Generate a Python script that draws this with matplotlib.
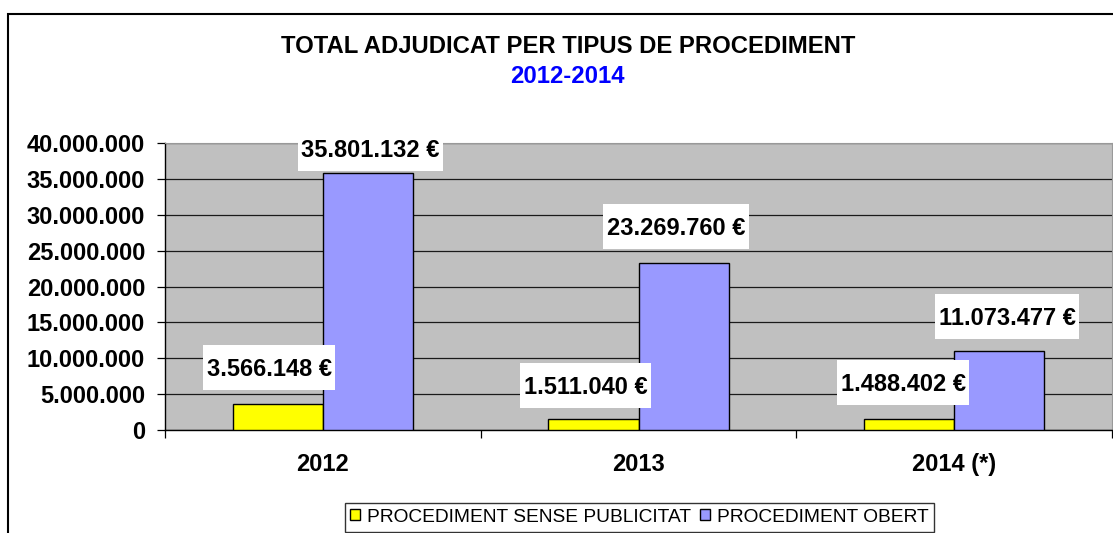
import matplotlib
matplotlib.use("Agg")
import matplotlib.pyplot as plt
from matplotlib.patches import Rectangle
from matplotlib.transforms import IdentityTransform
from matplotlib.ticker import FuncFormatter, FixedLocator

# ---------------- data ----------------
categories = ['2012', '2013', '2014 (*)']
sense_publicitat = [3566148, 1511040, 1488402]
obert = [35801132, 23269760, 11073477]
series_names = ['PROCEDIMENT SENSE PUBLICITAT', 'PROCEDIMENT OBERT']
title_line1 = 'TOTAL ADJUDICAT PER TIPUS DE PROCEDIMENT'
title_line2 = '2012-2014'
y_max = 40000000
y_step = 5000000

# ---------------- style ----------------
plt.rcParams['font.family'] = ['Liberation Sans', 'DejaVu Sans']
W, H = 1113, 533
DPI = 100
fig = plt.figure(figsize=(W / DPI, H / DPI), dpi=DPI)
fig.patch.set_facecolor('white')

ax = fig.add_axes([165 / W, 1 - 430 / H, (1112 - 165) / W, (430 - 143) / H])
ax.set_facecolor('#C0C0C0')

def fmt_num(v):
    return f"{v:,.0f}".replace(',', '.')

bar_w = 0.2857
xs = list(range(len(categories)))
b1 = ax.bar([x - bar_w / 2 for x in xs], sense_publicitat, width=bar_w,
            color='#FFFF00', edgecolor='black', linewidth=1.0, zorder=3,
            label=series_names[0])
b2 = ax.bar([x + bar_w / 2 for x in xs], obert, width=bar_w,
            color='#9999FF', edgecolor='black', linewidth=1.0, zorder=3,
            label=series_names[1])

ax.set_xlim(-0.5, len(categories) - 0.5)
ax.set_ylim(0, y_max)
ax.set_axisbelow(True)
ax.yaxis.set_major_locator(FixedLocator(list(range(0, y_max + 1, y_step))))
ax.yaxis.set_major_formatter(FuncFormatter(lambda v, p: fmt_num(v)))
ax.grid(axis='y', color='#1a1a1a', linewidth=0.9, zorder=0)

# x ticks: boundaries as major, labels on minor
ax.xaxis.set_major_locator(FixedLocator([i - 0.5 for i in range(len(categories) + 1)]))
ax.xaxis.set_major_formatter(FuncFormatter(lambda v, p: ''))
ax.xaxis.set_minor_locator(FixedLocator(xs))
ax.set_xticklabels(categories, minor=True)
ax.tick_params(axis='x', which='major', direction='out', length=5.8, width=0.9, color='black')
ax.tick_params(axis='x', which='minor', length=0, pad=16.5, labelsize=17)
ax.tick_params(axis='y', direction='out', length=5.8, width=0.9, color='black',
               pad=8.6, labelsize=17)
for lab in ax.get_xticklabels(minor=True) + ax.get_yticklabels():
    lab.set_fontweight('bold')

ax.spines['left'].set_color('black')
ax.spines['bottom'].set_color('black')
ax.spines['left'].set_linewidth(1.0)
ax.spines['bottom'].set_linewidth(1.0)
ax.spines['top'].set_color('#999999')
ax.spines['right'].set_color('#999999')

# ---------------- title ----------------
fig.text(568.5 / W, 1 - 53.4 / H, title_line1, ha='center', va='baseline',
         fontsize=17.2, fontweight='bold', color='black')
fig.text(567.5 / W, 1 - 83.4 / H, title_line2, ha='center', va='baseline',
         fontsize=17.2, fontweight='bold', color='#0000FF')

# ---------------- data labels ----------------
# offsets in pixels of the label cap-centre from the bar top (dx, dy)
label_offsets_sense = [(-8.5, 37), (-8, 34), (-6, 36.5)]
label_offsets_obert = [(2.5, 24.7), (-7.5, 36.7), (8, 34)]
cap_half = 8.4

texts = []
for bars, vals, offs in ((b1, sense_publicitat, label_offsets_sense),
                         (b2, obert, label_offsets_obert)):
    for rect, v, (dx, dy) in zip(bars, vals, offs):
        xc = rect.get_x() + rect.get_width() / 2
        t = ax.annotate(f"{fmt_num(v)} €", xy=(xc, v),
                        xytext=(dx, dy - cap_half), textcoords='offset pixels',
                        ha='center', va='baseline', fontsize=17,
                        fontweight='bold', color='black', zorder=6,
                        annotation_clip=False)
        texts.append((t, xc, v, dy))

# ---------------- legend ----------------
leg = fig.legend(handles=[b1, b2], labels=series_names, loc='upper center',
                 bbox_to_anchor=(639.5 / W, 1 - 503 / H), ncol=2,
                 fontsize=13.8, frameon=True, fancybox=False, shadow=False,
                 handlelength=0.5, handleheight=0.5, handletextpad=0.35,
                 columnspacing=0.5, borderpad=0.3, borderaxespad=0)
leg.get_frame().set_edgecolor('black')
leg.get_frame().set_linewidth(1.0)

# ---------------- outer chart border ----------------
fig.patches.append(Rectangle((8 / W, -0.1), 1.2, (1 - 13.5 / H) + 0.1,
                             transform=fig.transFigure, fill=False,
                             edgecolor='black', linewidth=1.5, zorder=10))

# white boxes behind labels
fig.canvas.draw()
renderer = fig.canvas.get_renderer()
for t, xc, v, dy in texts:
    bb = t.get_window_extent(renderer)
    base = ax.transData.transform((xc, v))[1] + dy - cap_half
    box = Rectangle((bb.x0 - 3.5, base - 14.2), bb.width + 7, 45,
                    transform=IdentityTransform(), facecolor='white',
                    edgecolor='none', zorder=5, clip_on=False)
    ax.add_artist(box)

fig.savefig('out.png', dpi=DPI, facecolor='white')
